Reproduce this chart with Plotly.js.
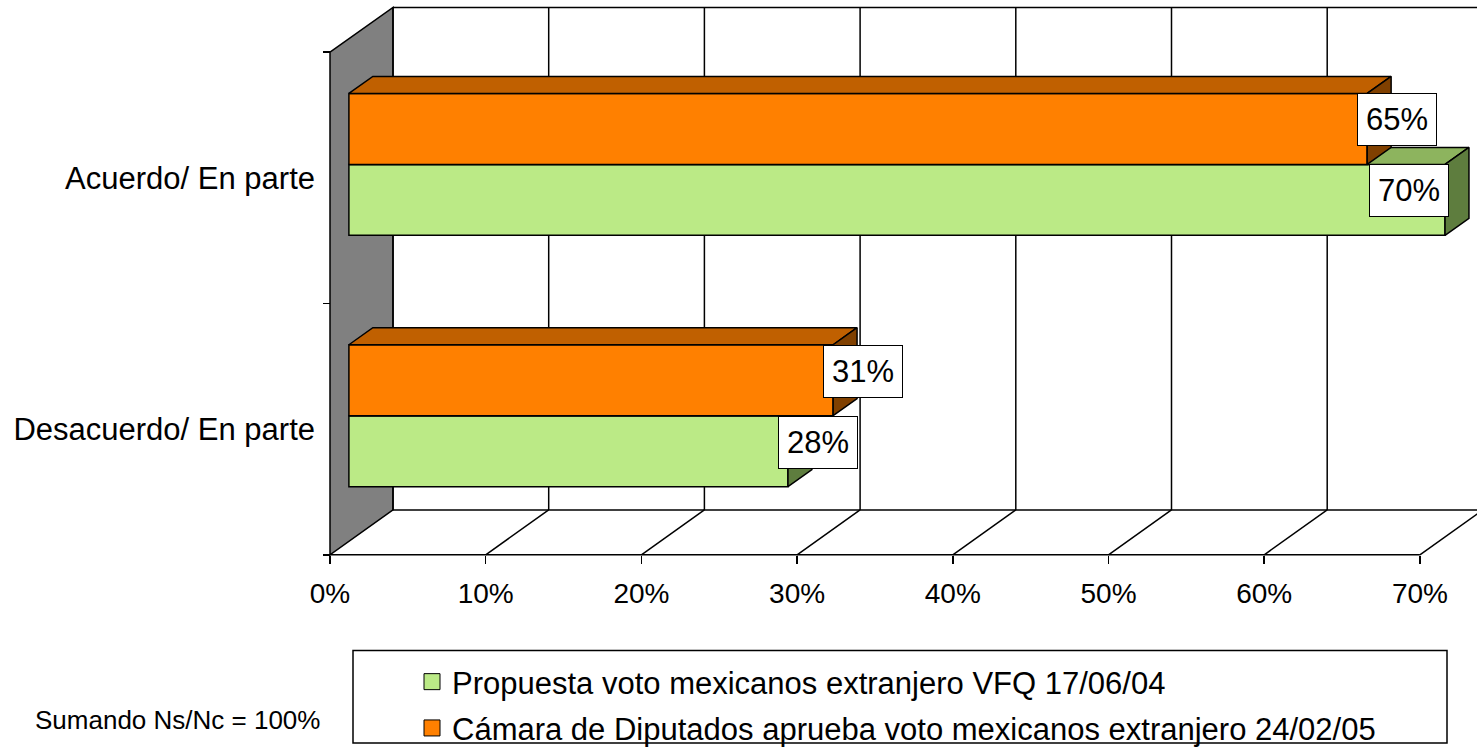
<!DOCTYPE html>
<html>
<head>
<meta charset="utf-8">
<script src="https://cdn.plot.ly/plotly-3.0.1.min.js"></script>
<style>html,body{margin:0;padding:0;background:#fff;}#chart{width:1477px;height:755px;}</style>
</head>
<body>
<div id="chart"></div>
<script>
// ---- data ----
const categories = ['Acuerdo/ En parte', 'Desacuerdo/ En parte'];
const seriesNames = ['Propuesta voto mexicanos extranjero VFQ 17/06/04',
                     'Cámara de Diputados aprueba voto mexicanos extranjero 24/02/05'];
const propuesta = [70.4, 28.2];   // VFQ 17/06/04 (green)
const camara = [65.4, 31.1];      // 24/02/05 (orange)
const xTicks = [0, 10, 20, 30, 40, 50, 60, 70];
const xTickLabels = ['0%', '10%', '20%', '30%', '40%', '50%', '60%', '70%'];
const note = 'Sumando Ns/Nc = 100%';

// ---- layout geometry (pixels -> data units) ----
const W = 1477, H = 755;
const PX = 15.57, X0 = 330;      // px per % on front plane, px of 0%
const PY = 255, Y0 = 53;         // px per category on front plane, px of top
const dX = p => p / PX, dY = p => p / PY;
const WDX = 63, WDY = -45.5;     // wall depth vector (px)
const T1 = 0.30, T2 = 0.68;      // bar front/back depth fractions
const BAR_H = 72 / PY;
const nCat = categories.length;
const font = 'Arial, "Liberation Sans", sans-serif';

const baseX = dX(WDX * T1), baseY = dY(WDY * T1);
const ddx = dX(WDX * (T2 - T1)), ddy = dY(WDY * (T2 - T1));

const seriesDefs = [
  {name: seriesNames[0], vals: propuesta, pos: +0.5, front: '#BBEA86', top: '#8DB45E', side: '#5E7D3E', z: 1},
  {name: seriesNames[1], vals: camara, pos: -0.5, front: '#FF8000', top: '#C06000', side: '#804000', z: 2}
];

const traces = [];
const annotations = [];
seriesDefs.forEach(s => {
  const yc = categories.map((c, i) => i + 0.5 + baseY + s.pos * BAR_H);
  traces.push({
    type: 'bar', orientation: 'h', x: s.vals, y: yc, base: s.vals.map(() => baseX),
    width: BAR_H, marker: {color: s.front, line: {color: '#000', width: 1.5}},
    showlegend: false, hoverinfo: 'skip', zorder: s.z, name: s.name
  });
  s.vals.forEach((v, i) => {
    const x0 = baseX, x1 = baseX + v;
    const yt = yc[i] - BAR_H / 2, yb = yc[i] + BAR_H / 2;
    // top face
    traces.push({type: 'scatter', mode: 'lines', fill: 'toself', fillcolor: s.top,
      x: [x0, x1, x1 + ddx, x0 + ddx, x0], y: [yt, yt, yt + ddy, yt + ddy, yt],
      line: {color: '#000', width: 1.5}, showlegend: false, hoverinfo: 'skip', zorder: s.z});
    // side face
    traces.push({type: 'scatter', mode: 'lines', fill: 'toself', fillcolor: s.side,
      x: [x1, x1 + ddx, x1 + ddx, x1, x1], y: [yt, yt + ddy, yb + ddy, yb, yt],
      line: {color: '#000', width: 1.5}, showlegend: false, hoverinfo: 'skip', zorder: s.z});
    // data label
    const endPx = X0 + x1 * PX;
    const cPx = Math.min(endPx + 30, W - 68);
    annotations.push({x: (cPx - X0) / PX, y: yc[i], xref: 'x', yref: 'y', yshift: 9,
      text: Math.round(v) + '%', showarrow: false, xanchor: 'center', yanchor: 'middle',
      font: {family: font, size: 31, color: '#000'}, bgcolor: '#fff', bordercolor: '#000',
      borderwidth: 1, borderpad: 8});
  });
});
// legend entries (green first)
seriesDefs.forEach((s, k) => {
  traces.push({type: 'scatter', mode: 'markers', x: [null], y: [null], name: s.name,
    legendgroup: 'g' + k, marker: {symbol: 'square', size: 16, color: s.front, line: {color: '#000', width: 1}},
    hoverinfo: 'skip'});
});

// ---- walls, floor, gridlines (decoration) ----
const wx = dX(WDX), wy = dY(WDY);
const line = {color: '#000', width: 1.5};
const shapes = [];
shapes.push({type: 'path', xref: 'x', yref: 'y', layer: 'below',
  path: `M0,0 L${wx},${wy} L${wx},${nCat + wy} L0,${nCat} Z`, fillcolor: '#808080', line: line});
xTicks.forEach(v => {
  shapes.push({type: 'line', xref: 'x', yref: 'y', layer: 'below', x0: v + wx, x1: v + wx, y0: wy, y1: nCat + wy, line: line});
  if (v > 0) shapes.push({type: 'line', xref: 'x', yref: 'y', layer: 'below', x0: v, x1: v + wx, y0: nCat, y1: nCat + wy, line: line});
});
const xMax = xTicks[xTicks.length - 1];
shapes.push({type: 'line', xref: 'x', yref: 'y', layer: 'below', x0: wx, x1: xMax + wx, y0: wy, y1: wy, line: line});
shapes.push({type: 'line', xref: 'x', yref: 'y', layer: 'below', x0: wx, x1: xMax + wx, y0: nCat + wy, y1: nCat + wy, line: line});
shapes.push({type: 'line', xref: 'x', yref: 'y', layer: 'below', x0: 0, x1: xMax, y0: nCat, y1: nCat, line: line});
// legend box
shapes.push({type: 'rect', xref: 'paper', yref: 'paper', x0: 353 / W, x1: 1447 / W, y0: 1 - 754 / H, y1: 1 - 660 / H,
  line: {color: '#000', width: 1.5}, fillcolor: 'rgba(0,0,0,0)'});

annotations.push({xref: 'paper', yref: 'paper', x: 33 / W, y: 1 - 731 / H, xanchor: 'left', yanchor: 'middle',
  text: note, showarrow: false, font: {family: font, size: 26, color: '#000'}});

const layout = {
  width: W, height: H, margin: {l: 0, r: 0, t: 0, b: 0}, paper_bgcolor: '#fff', plot_bgcolor: 'rgba(0,0,0,0)',
  hovermode: false,
  xaxis: {range: [-X0 / PX, (W - X0) / PX], domain: [0, 1], anchor: 'free', position: (H - Y0 - nCat * PY) / H,
    tickvals: xTicks, ticktext: xTickLabels, ticks: 'outside', ticklen: 8, tickwidth: 1.5, tickcolor: '#000',
    ticklabelstandoff: 6,
    showgrid: false, zeroline: false, showline: false, fixedrange: true,
    tickfont: {family: font, size: 28, color: '#000'}},
  yaxis: {range: [(H - Y0) / PY, -Y0 / PY], domain: [0, 1], anchor: 'free', position: X0 / W,
    tickvals: categories.map((c, i) => i + 0.5), ticktext: categories, ticks: '', ticklabelstandoff: 15,
    minor: {tickvals: categories.map((c, i) => i).concat([nCat]), ticks: 'outside', ticklen: 7, tickwidth: 1.5, tickcolor: '#000', showgrid: false},
    showgrid: false, zeroline: false, showline: false, fixedrange: true,
    tickfont: {family: font, size: 31, color: '#000'}},
  showlegend: true,
  legend: {x: 412 / W, y: 1 - 665 / H, xanchor: 'left', yanchor: 'top', bgcolor: 'rgba(0,0,0,0)', borderwidth: 0,
    traceorder: 'grouped', tracegroupgap: 3, font: {family: font, size: 31, color: '#000'}},
  shapes: shapes, annotations: annotations
};
Plotly.newPlot('chart', traces, layout, {displayModeBar: false, staticPlot: true});
</script>
</body>
</html>
